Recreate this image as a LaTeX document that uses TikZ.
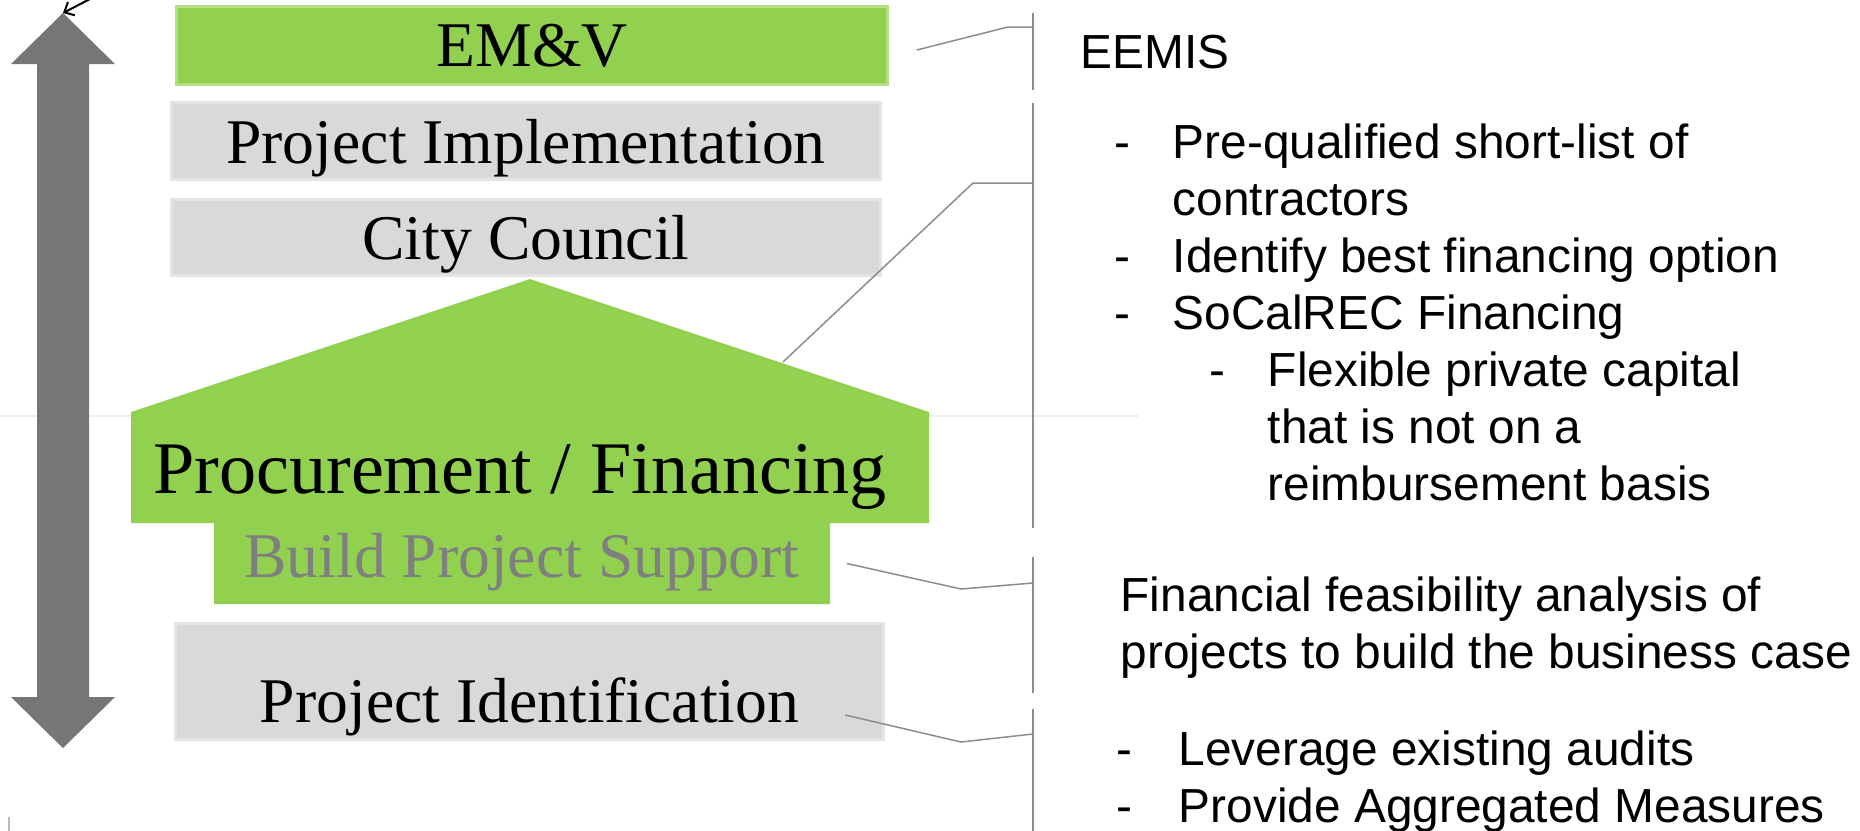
\documentclass[tikz,border=0pt]{standalone}
\usepackage{fontspec}
\setmainfont{Liberation Serif}
\newfontfamily\arialfont{Liberation Sans}
\usetikzlibrary{arrows.meta}

\definecolor{leafgreen}{HTML}{92D050}
\definecolor{stagegrey}{HTML}{D9D9D9}
\definecolor{arrowgrey}{HTML}{767676}
\definecolor{labelgrey}{HTML}{7F7F7F}
\definecolor{leadergrey}{HTML}{8C8C8C}
\definecolor{paleline}{HTML}{EDF0E4}

\newcommand{\dsh}{\makebox[0.58cm][l]{-}}

\begin{document}
\begin{tikzpicture}[x=0.01cm,y=-0.01cm,
  stage/.style={rectangle,inner sep=0pt,text depth=0pt,font=\fontsize{18.1}{21.7}\selectfont},
  greystage/.style={stage,fill=stagegrey,draw=stagegrey!70,line width=0.03cm,minimum width=7.08cm,minimum height=0.76cm},
  greenstage/.style={stage,fill=leafgreen,draw=leafgreen!70,line width=0.03cm},
  note/.style={anchor=base west,align=left,inner sep=0pt,font=\arialfont\fontsize{13.6}{16.2}\selectfont},
  leader/.style={draw=leadergrey,line width=0.015cm},
  bracket/.style={draw=leadergrey,line width=0.015cm}]
  \useasboundingbox (0,0) rectangle (1860,830);
  \draw[paleline,line width=0.015cm] (0,416) -- (1139,416);
  \fill[arrowgrey] (63,13) -- (115,64) -- (89,64) -- (89,697) -- (115,697) -- (63,748)
    -- (11,697) -- (37,697) -- (37,64) -- (11,64) -- cycle;
  \coordinate (uptip) at (63,13);
  \coordinate (cut) at (90,-1);
  \draw[-{Straight Barb[length=0.08cm,width=0.15cm]},line width=0.02cm] (cut) -- (uptip);
  \draw[leadergrey!60,line width=0.015cm] (9,817) -- (9,832);

  \node[greenstage,minimum width=7.10cm,minimum height=0.77cm] (emv) at (532,45.5) {EM\&V};
  \node[greystage] (impl) at (526,141) {Project Implementation};
  \node[greystage,minimum height=0.75cm] (council) at (526,237.5) {City Council};
  \fill[leafgreen] (131,412) -- (530,279) -- (929,412) -- (929,523) -- (830,523)
    -- (830,604) -- (214,604) -- (214,523) -- (131,523) -- cycle;
  \coordinate (roof) at (783,362);
  \node[stage,font=\fontsize{21.1}{25.3}\selectfont] (proc) at (520,469) {Procurement / Financing};
  \node[stage,minimum width=6.16cm,minimum height=0.81cm,text height=0.27cm,text=labelgrey] (bps) at (522,563.5) {Build Project Support};
  \node[greystage,minimum height=1.15cm,text height=0.81cm] (ident) at (529.5,681.5) {Project Identification};

  \node[note] (eemis) at (1080,68) {EEMIS};
  \node[note] (procnote) at (1114,500) {\dsh Pre-qualified short-list of\\
    \hspace*{0.58cm}contractors\\
    \dsh Identify best financing option\\
    \dsh SoCalREC Financing\\
    \hspace*{0.95cm}\dsh Flexible private capital\\
    \hspace*{1.53cm}that is not on a\\
    \hspace*{1.53cm}reimbursement basis};
  \node[note] (bpsnote) at (1120,668) {Financial feasibility analysis of\\
    projects to build the business case};
  \node[note] (identnote) at (1116,822) {\makebox[0.62cm][l]{-}Leverage existing audits\\
    \makebox[0.62cm][l]{-}Provide Aggregated Measures};

  \coordinate (brA) at (1033,27);
  \coordinate (brB) at (1033,183);
  \coordinate (brC) at (1033,583);
  \coordinate (brD) at (1033,734);
  \draw[bracket] (1033,13) -- (1033,90);
  \draw[bracket] (1033,103) -- (1033,528);
  \draw[bracket] (1033,557) -- (1033,693);
  \draw[bracket] (1033,709) -- (1033,832);
  \draw[leader] ([shift={(28,4.5)}]emv.east) -- (1008,27) -- (brA);
  \draw[leader] (roof) -- (973,183) -- (brB);
  \draw[leader] ([shift={(16,0)}]bps.east) -- (961,589) -- (brC);
  \draw[leader] ([shift={(-40,33.5)}]ident.east) -- (961,742) -- (brD);
\end{tikzpicture}
\end{document}
